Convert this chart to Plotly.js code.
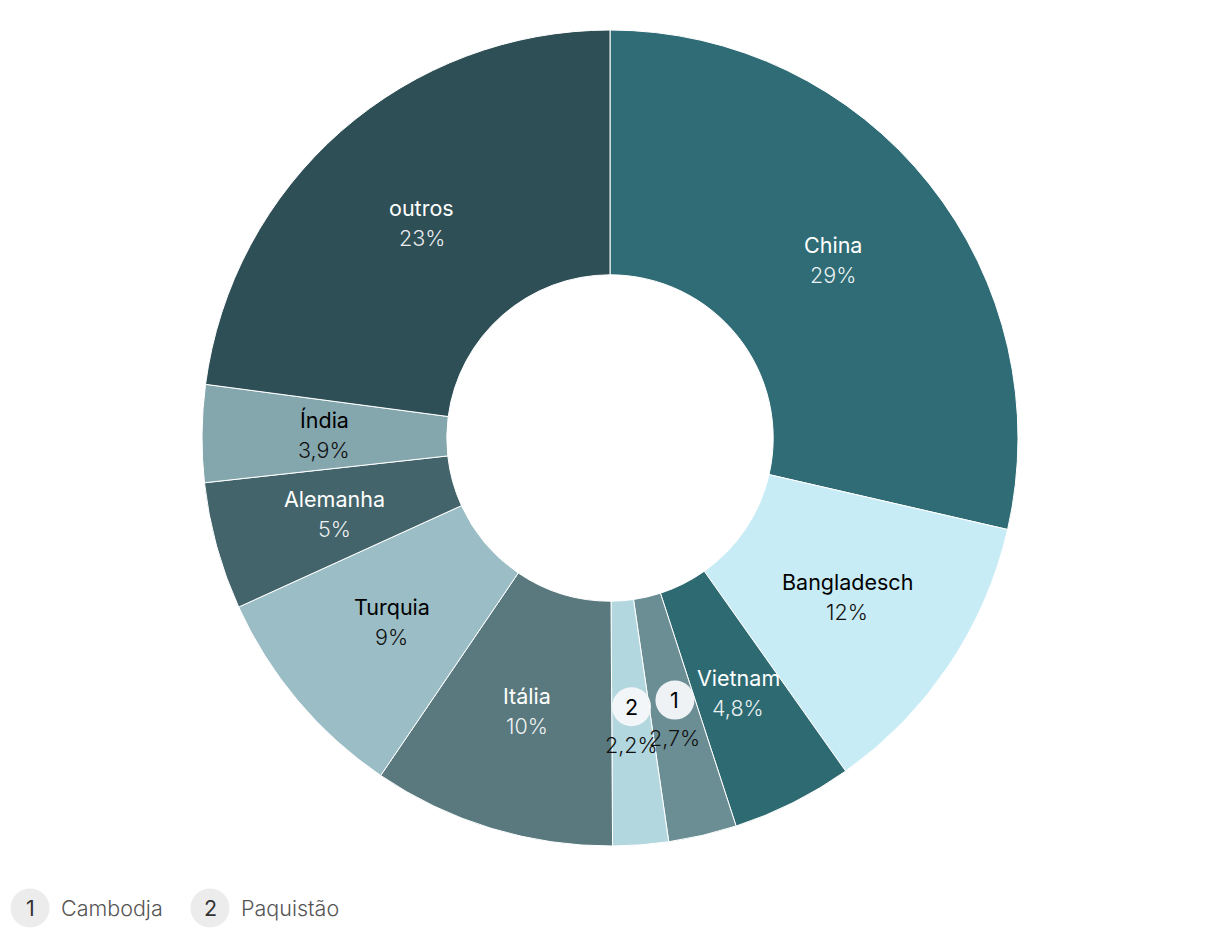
<!DOCTYPE html>
<html>
<head>
<meta charset="utf-8">
<script src="https://cdn.plot.ly/plotly-3.0.1.min.js"></script>
<style>html,body{margin:0;padding:0;background:#fff;}#chart{width:1220px;height:936px;}</style>
</head>
<body>
<div id="chart"></div>
<script>
// ---- data ----
const countries = ['China','Bangladesch','Vietnam','Cambodja','Paquistão','Itália','Turquia','Alemanha','Índia','outros'];
const shares = [28.6, 11.6, 4.8, 2.7, 2.2, 9.6, 8.7, 5.05, 3.85, 22.9];
const shareLabels = ['29%','12%','4,8%','2,7%','2,2%','10%','9%','5%','3,9%','23%'];
const footnoteNumbers = ['','','','1','2','','','','',''];
const legendNumbers = ['1','2'];
const legendNames = ['Cambodja','Paquistão'];

// ---- style ----
const sliceColors = ['#2f6c75','#c8ecf5','#2e6a72','#6b8e95','#b2d7df','#59797e','#9bbdc5','#43646a','#84a6ad','#2f4f56'];
const nameColors = ['#fff','#000','#fff','#000','#000','#fff','#000','#fff','#000','#fff'];
const pctColors = ['rgba(255,255,255,0.92)','#111','rgba(255,255,255,0.92)','#111','#111','rgba(255,255,255,0.92)','#111','rgba(255,255,255,0.92)','#111','rgba(255,255,255,0.92)'];
const FONT = 'Inter, "Noto Sans", Roboto, sans-serif';
const FS = 21.5;

const W = 1220, H = 936, mt = 30, mb = 90;
const plotH = H - mt - mb;
const cx = W / 2, cy = mt + plotH / 2;
const hole = 0.4;
const R = Math.min(W, plotH) / 2;
const rMid = R * (1 + hole) / 2;

const toPX = px => px / W;
const toPY = py => (mt + plotH - py) / plotH;

const total = shares.reduce((a, b) => a + b, 0);
const annotations = [];
const shapes = [];
let cum = 0;
shares.forEach((v, i) => {
  const mid = (cum + v / 2) / total * 2 * Math.PI;
  cum += v;
  const px = cx + rMid * Math.sin(mid);
  const py = cy - rMid * Math.cos(mid);
  const topText = footnoteNumbers[i] || countries[i];
  const topY = footnoteNumbers[i] ? py - 16 : py - 15;
  const botY = footnoteNumbers[i] ? py + 22 : py + 15;
  if (footnoteNumbers[i]) {
    shapes.push({type:'circle', xref:'paper', yref:'paper', xsizemode:'pixel', ysizemode:'pixel',
      xanchor: toPX(px), yanchor: toPY(topY), x0:-19.5, x1:19.5, y0:-19.5, y1:19.5,
      fillcolor:'rgba(246,248,249,0.95)', line:{width:0}});
  }
  annotations.push({xref:'paper', yref:'paper', x: toPX(px), y: toPY(topY), text: topText,
    showarrow:false, xanchor:'center', yanchor:'middle',
    font:{family:FONT, size:FS, color: footnoteNumbers[i] ? '#000' : nameColors[i], weight:400}});
  annotations.push({xref:'paper', yref:'paper', x: toPX(px), y: toPY(botY), text: shareLabels[i],
    showarrow:false, xanchor:'center', yanchor:'middle',
    font:{family:FONT, size:FS, color: pctColors[i], weight:300}});
});

// footnote legend
const legendY = 908;
let lx = 30;
legendNumbers.forEach((n, k) => {
  shapes.push({type:'circle', xref:'paper', yref:'paper', xsizemode:'pixel', ysizemode:'pixel',
    xanchor: toPX(lx), yanchor: toPY(legendY), x0:-19.5, x1:19.5, y0:-19.5, y1:19.5,
    fillcolor:'#ececec', line:{width:0}});
  annotations.push({xref:'paper', yref:'paper', x: toPX(lx), y: toPY(legendY), text: n,
    showarrow:false, xanchor:'center', yanchor:'middle', font:{family:FONT, size:FS, color:'#333'}});
  annotations.push({xref:'paper', yref:'paper', x: toPX(lx + 29), y: toPY(legendY), text: legendNames[k],
    showarrow:false, xanchor:'left', yanchor:'middle', font:{family:FONT, size:FS, color:'#555', weight:300}});
  lx += 180;
});

const trace = {
  type:'pie', labels: countries, values: shares, sort:false, direction:'clockwise', rotation:0,
  hole: hole, textinfo:'none', hoverinfo:'label+percent',
  marker:{colors: sliceColors, line:{color:'#fff', width:1}},
  domain:{x:[0,1], y:[0,1]}
};

Plotly.newPlot('chart', [trace], {
  width: W, height: H, margin:{l:0, r:0, t:mt, b:mb},
  showlegend:false, paper_bgcolor:'#fff', plot_bgcolor:'#fff',
  annotations: annotations, shapes: shapes
}, {displayModeBar:false, staticPlot:true});
</script>
</body>
</html>
